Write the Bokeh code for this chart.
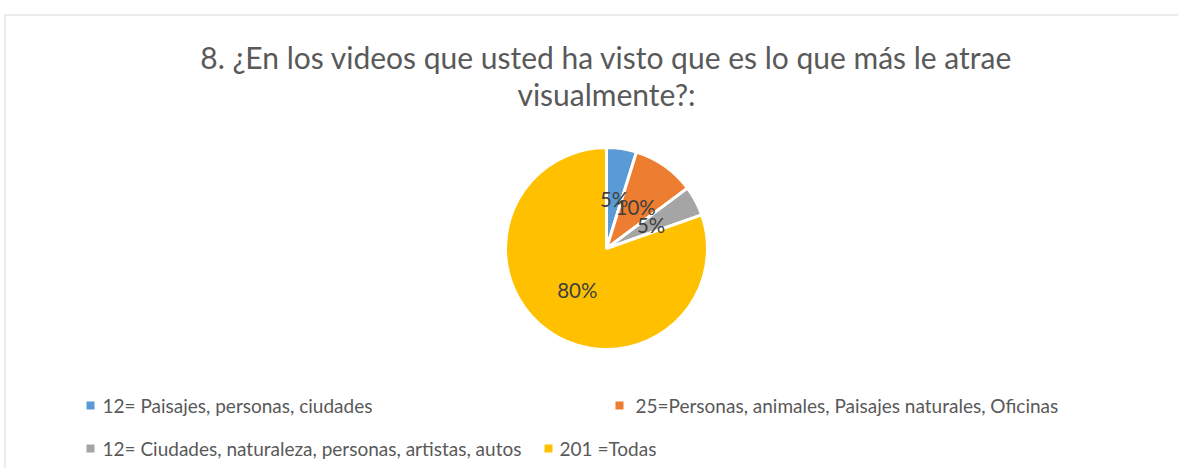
import math
from bokeh.plotting import figure
from bokeh.models import Range1d, ColumnDataSource
from bokeh.core.properties import value
from bokeh.embed import file_html
from bokeh.resources import INLINE

# ---- data ----
title_lines = ["8. ¿En los videos que usted ha visto que es lo que más le atrae", "visualmente?:"]
categories = [
    "12= Paisajes, personas, ciudades",
    "25=Personas, animales, Paisajes naturales, Oficinas",
    "12= Ciudades, naturaleza, personas, artistas, autos",
    "201 =Todas",
]
counts = [12, 25, 12, 201]
colors = ["#5b9bd5", "#ed7d31", "#a5a5a5", "#ffc000"]

W, H = 1178, 468
def px(x):  # page x -> data x
    return x
def py(y):  # page y -> data y
    return H - y

p = figure(width=W, height=H, output_backend="svg", toolbar_location=None,
           x_range=Range1d(0, W), y_range=Range1d(0, H), min_border=0)
p.axis.visible = False
p.grid.visible = False
p.outline_line_color = None
p.background_fill_color = "white"
p.border_fill_color = "white"

# chart border (top and left edges visible)
p.line([px(4.5), px(1186)], [py(14.5), py(14.5)], line_color="#d9d9d9", line_width=1)
p.line([px(4.5), px(4.5)], [py(14.5), py(476)], line_color="#d9d9d9", line_width=1)

# title
p.text(x=[px(606), px(606)], y=[py(56), py(93)], text=title_lines,
       text_font=value("Lato"), text_font_size="30px", text_color="#595959",
       text_align="center", text_baseline="alphabetic")

# pie
cx, cy, R = px(606), py(248), 101
total = sum(counts)
starts, ends, mids = [], [], []
cum = 0
for c in counts:
    a0 = math.pi / 2 - 2 * math.pi * (cum + c) / total
    a1 = math.pi / 2 - 2 * math.pi * cum / total
    starts.append(a0)
    ends.append(a1)
    mids.append((a0 + a1) / 2)
    cum += c
src = ColumnDataSource(dict(start=starts, end=ends, color=colors,
                            x=[cx] * 4, y=[cy] * 4))
p.wedge(x="x", y="y", radius=R, radius_units="screen", start_angle="start",
        end_angle="end", fill_color="color", line_color="white", line_width=3,
        source=src)

labels = [f"{round(c / total * 100)}%" for c in counts]
lx = [cx + 0.5 * R * math.cos(m) for m in mids]
ly = [cy + 0.5 * R * math.sin(m) for m in mids]
p.text(x=lx, y=ly, text=labels, text_font=value("Lato"), text_font_size="20.5px",
       text_color="#404040", text_align="center", text_baseline="middle")

# legend
mx = [px(90), px(619), px(90), px(548)]
my = [py(405), py(405), py(448), py(448)]
tx = [px(102), px(635), px(102), px(559)]
p.scatter(x=mx, y=my, marker="square", size=8, fill_color=colors, line_color=None)
p.text(x=tx, y=my, text=categories, text_font=value("Lato"), text_font_size="19px",
       text_color="#595959", text_align="left", text_baseline="middle")

open("out.html", "w").write(file_html(p, INLINE))
